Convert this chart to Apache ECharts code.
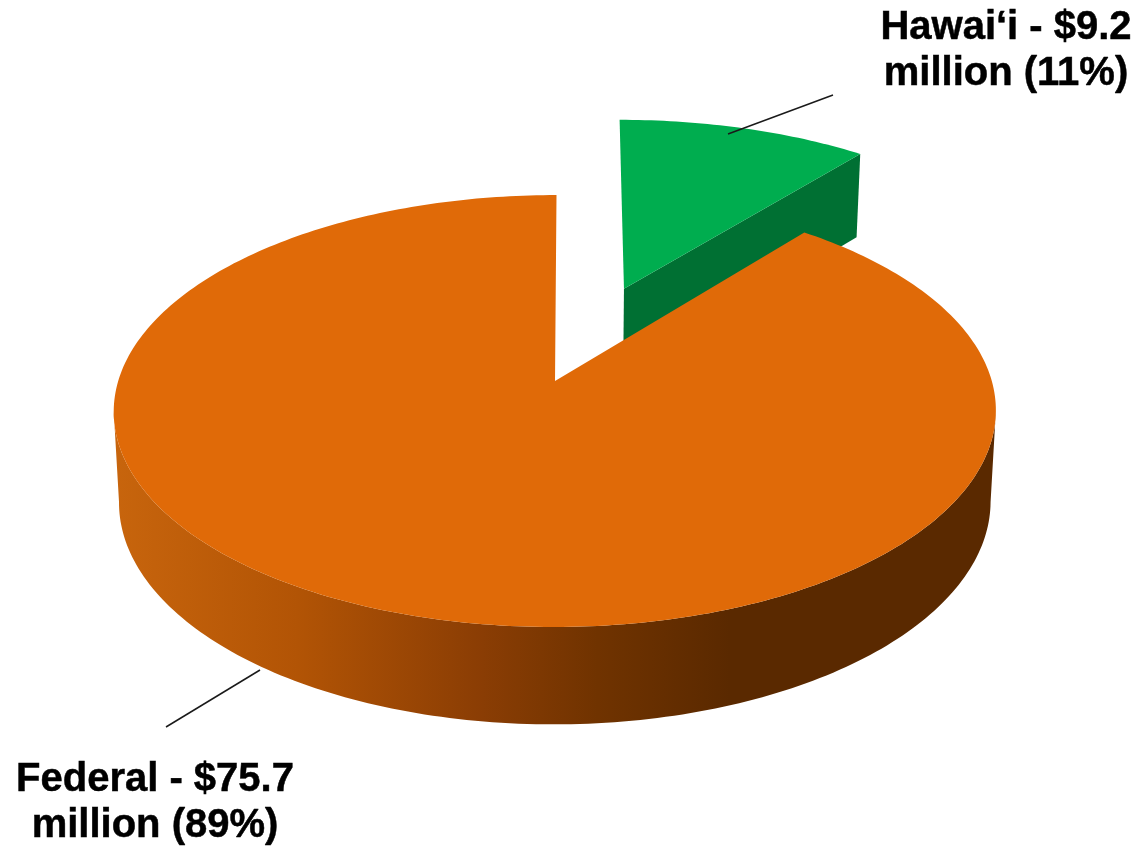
<!DOCTYPE html>
<html>
<head>
<meta charset="utf-8">
<style>
  html, body { margin: 0; padding: 0; background: #fff; }
  #chart { width: 1144px; height: 847px; }
</style>
<script src="https://cdn.jsdelivr.net/npm/echarts@6/dist/echarts.min.js"></script>
</head>
<body>
<div id="chart"></div>
<script>
// Funding sources, in millions of dollars. Hawai‘i is drawn first so the
// larger Federal slice sits in front of it.
const categories = ['Hawai‘i', 'Federal'];
const amounts = [9.2, 75.7];

const topColors = ['#00AD4F', '#E06A08'];
const wallColors = ['#007033', null];

// Perspective model of the tilted disc.
const cx = 555, cy = 381;          // projected centre of the disc
const radiusX = 436.8, radiusY = 211.8, perspective = 0.139;
const depthX = 0.988, depthY = 1.03, depthDrop = 90; // bottom rim relative to top rim
const explode = [0.4915, 0];       // radial offset per slice, in disc radii
const sliceScale = [1.025, 1];     // radius multiplier per slice
const shear = [3.5, 1.5];          // sideways lean of each slice towards the back

const labelStyle = {
  font: 'bold 40px "Liberation Sans", Arial, sans-serif',
  lineHeight: 46
};
const labelAnchors = [
  { x: 1006, y: 5, line: [[728, 134], [833, 95]] },
  { x: 155, y: 757, line: [[166, 727], [260, 670]] }
];

const total = amounts.reduce((a, b) => a + b, 0);

function project(X, Y, lean) {
  const w = 1 - perspective * Y;
  return [cx + radiusX * X / w - lean * Y, cy + radiusY * Y / w];
}
function lower(p) {
  return [cx + depthX * (p[0] - cx), cy + depthDrop + depthY * (p[1] - cy)];
}

function sliceAngles(index) {
  let start = 0;
  for (let i = 0; i < index; i++) start += amounts[i] / total * 2 * Math.PI;
  return [start, start + amounts[index] / total * 2 * Math.PI];
}

function renderSlice(params) {
  const i = params.dataIndex;
  const [a0, a1] = sliceAngles(i);
  const mid = (a0 + a1) / 2;
  const ox = explode[i] * Math.sin(mid), oy = -explode[i] * Math.cos(mid);
  const apex = project(ox, oy, shear[i]);

  const rim = [];
  const steps = Math.ceil((a1 - a0) / (Math.PI / 180));
  for (let s = 0; s <= steps; s++) {
    const a = a0 + (a1 - a0) * s / steps;
    rim.push(project(
      ox + sliceScale[i] * Math.sin(a),
      oy - sliceScale[i] * Math.cos(a),
      shear[i]
    ));
  }

  const children = [];
  const anchor = labelAnchors[i];

  children.push({
    type: 'line',
    z2: i === 0 ? 5 : 0,
    shape: {
      x1: anchor.line[0][0], y1: anchor.line[0][1],
      x2: anchor.line[1][0], y2: anchor.line[1][1]
    },
    style: { stroke: '#1a1a1a', lineWidth: 1.5 }
  });

  if (wallColors[i]) {
    // Exploded slice: the cut face on its clockwise edge is the visible wall.
    const edge = rim[rim.length - 1];
    children.push({
      type: 'polygon',
      z2: 1,
      shape: { points: [apex, edge, lower(edge), lower(apex)] },
      style: { fill: wallColors[i] }
    });
  } else {
    // Outer wall: only the front arc between the left and right silhouette
    // points faces the viewer. Shaded from lit left to dark right.
    let iMax = 0, iMin = 0;
    rim.forEach((p, k) => {
      if (p[0] > rim[iMax][0]) iMax = k;
      if (p[0] < rim[iMin][0]) iMin = k;
    });
    const front = rim.slice(iMax, iMin + 1);
    children.push({
      type: 'polygon',
      z2: 1,
      shape: { points: front.concat(front.slice().reverse().map(lower)) },
      style: {
        fill: new echarts.graphic.LinearGradient(112, 0, 995, 0, [
          { offset: 0, color: '#C8650D' },
          { offset: 0.21, color: '#B25405' },
          { offset: 0.42, color: '#8A3D04' },
          { offset: 0.55, color: '#703300' },
          { offset: 0.7, color: '#5A2900' },
          { offset: 1, color: '#5A2900' }
        ], true)
      }
    });
  }

  children.push({
    type: 'polygon',
    z2: 2,
    shape: { points: [apex].concat(rim) },
    style: { fill: topColors[i] }
  });

  const pct = Math.round(amounts[i] / total * 100);
  children.push({
    type: 'text',
    z2: 6,
    style: {
      text: categories[i] + ' - $' + amounts[i].toFixed(1) + '\nmillion (' + pct + '%)',
      x: anchor.x,
      y: anchor.y,
      align: 'center',
      font: labelStyle.font,
      lineHeight: labelStyle.lineHeight,
      fill: '#000',
      stroke: '#000',
      lineWidth: 0.5
    }
  });

  return { type: 'group', children };
}

const chart = echarts.init(document.getElementById('chart'));
chart.setOption({
  animation: false,
  backgroundColor: '#fff',
  series: [{
    type: 'custom',
    coordinateSystem: 'none',
    renderItem: renderSlice,
    data: amounts.map((v, i) => ({ name: categories[i], value: v }))
  }]
});
</script>
</body>
</html>
